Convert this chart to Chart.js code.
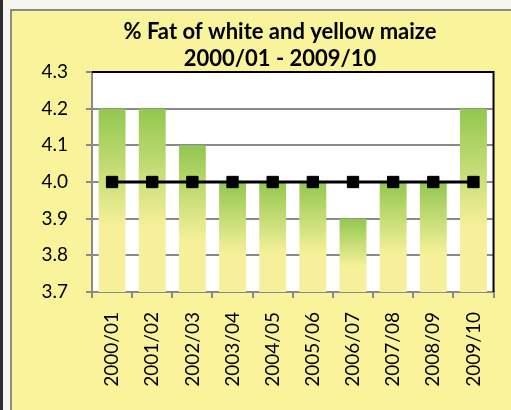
<!DOCTYPE html>
<html>
<head>
<meta charset="utf-8">
<script src="https://cdn.jsdelivr.net/npm/chart.js@4/dist/chart.umd.min.js"></script>
<style>
  html, body { margin: 0; padding: 0; width: 511px; height: 410px; overflow: hidden; background: #f7f5ef; }
  #strip { position: absolute; left: 0; top: 0; width: 3px; height: 410px; background: #2f2f2f; }
  #panel { position: absolute; left: 10px; top: 9px; width: 600px; height: 500px;
           background: #f9f39b; border-left: 2px solid #8a8a88; border-top: 2px solid #8a8a88; }
  #wrap { position: absolute; left: 0; top: 0; width: 511px; height: 410px; }
</style>
</head>
<body>
<div id="strip"></div>
<div id="panel"></div>
<div id="wrap"><canvas id="myChart"></canvas></div>
<script>
  const seasons = ['2000/01', '2001/02', '2002/03', '2003/04', '2004/05', '2005/06', '2006/07', '2007/08', '2008/09', '2009/10'];
  const fatPercent = [4.2, 4.2, 4.1, 4.0, 4.0, 4.0, 3.9, 4.0, 4.0, 4.2];
  const fatAverage = [4.0, 4.0, 4.0, 4.0, 4.0, 4.0, 4.0, 4.0, 4.0, 4.0];
  const titleLines = ['% Fat of white and yellow maize', '2000/01 - 2009/10'];

  const yMin = 3.7, yMax = 4.3;
  const font = 'Lato, "Open Sans", sans-serif';

  // white plot area, black top/right border
  Chart.register({
    id: 'plotFrame',
    beforeDraw(chart) {
      const { ctx, chartArea: a } = chart;
      ctx.save();
      ctx.fillStyle = '#ffffff';
      ctx.fillRect(a.left, a.top, a.right - a.left, a.bottom - a.top);
      ctx.restore();
    },
    afterDraw(chart) {
      const { ctx, chartArea: a } = chart;
      ctx.save();
      ctx.strokeStyle = '#000000';
      ctx.lineWidth = 2;
      ctx.beginPath();
      ctx.moveTo(a.left, a.top);
      ctx.lineTo(a.right, a.top);
      ctx.lineTo(a.right, a.bottom);
      ctx.stroke();
      // title, two lines
      ctx.fillStyle = '#000';
      ctx.font = 'bold 22px ' + font;
      ctx.textAlign = 'center';
      ctx.textBaseline = 'middle';
      ctx.fillText(titleLines[0], 280, 32);
      ctx.fillText(titleLines[1], 280, 59);
      ctx.restore();
    }
  });

  const barFill = (c) => {
    const chart = c.chart;
    if (!chart.chartArea || c.raw === undefined) return '#b5d56a';
    const y = chart.scales.y;
    const top = y.getPixelForValue(c.raw);
    const bot = y.getPixelForValue(yMin);
    const g = chart.ctx.createLinearGradient(0, top, 0, bot);
    g.addColorStop(0, '#92c74f');
    g.addColorStop(0.65, '#f6f09a');
    g.addColorStop(1, '#f6f09a');
    return g;
  };

  const ctx = document.getElementById('myChart').getContext('2d');
  new Chart(ctx, {
    data: {
      labels: seasons,
      datasets: [
        {
          type: 'line',
          data: fatAverage,
          order: 0,
          borderColor: '#000',
          borderWidth: 3,
          pointStyle: 'rect',
          pointRadius: 8,
          pointBackgroundColor: '#000',
          pointBorderColor: '#000',
          pointBorderWidth: 1,
          tension: 0
        },
        {
          type: 'bar',
          data: fatPercent,
          order: 1,
          backgroundColor: barFill,
          borderWidth: 0,
          barPercentage: 0.67,
          categoryPercentage: 1
        }
      ]
    },
    options: {
      responsive: true,
      maintainAspectRatio: false,
      animation: false,
      layout: { padding: { left: 38, right: 15, top: 72, bottom: 0 } },
      plugins: { legend: { display: false }, tooltip: { enabled: false }, title: { display: false } },
      scales: {
        x: {
          afterFit: s => { s.height = 118; },
          grid: { offset: true, drawOnChartArea: false, drawTicks: true, tickLength: 6, color: '#8a8a8a', lineWidth: 2 },
          border: { display: true, color: '#8a8a8a', width: 2 },
          ticks: { maxRotation: 90, minRotation: 90, padding: 14, color: '#000', font: { family: font, size: 19 } }
        },
        y: {
          min: yMin,
          max: yMax,
          afterFit: s => { s.width = 54; },
          grid: {
            color: c => (c.index === 6 ? '#000' : '#8a8a8a'),
            tickColor: '#8a8a8a',
            lineWidth: 2,
            tickLength: 6
          },
          border: { display: true, color: '#8a8a8a', width: 2 },
          ticks: {
            stepSize: 0.1,
            padding: 18,
            color: '#000',
            font: { family: font, size: 19 },
            callback: v => Number(v).toFixed(1)
          }
        }
      }
    }
  });
</script>
</body>
</html>
